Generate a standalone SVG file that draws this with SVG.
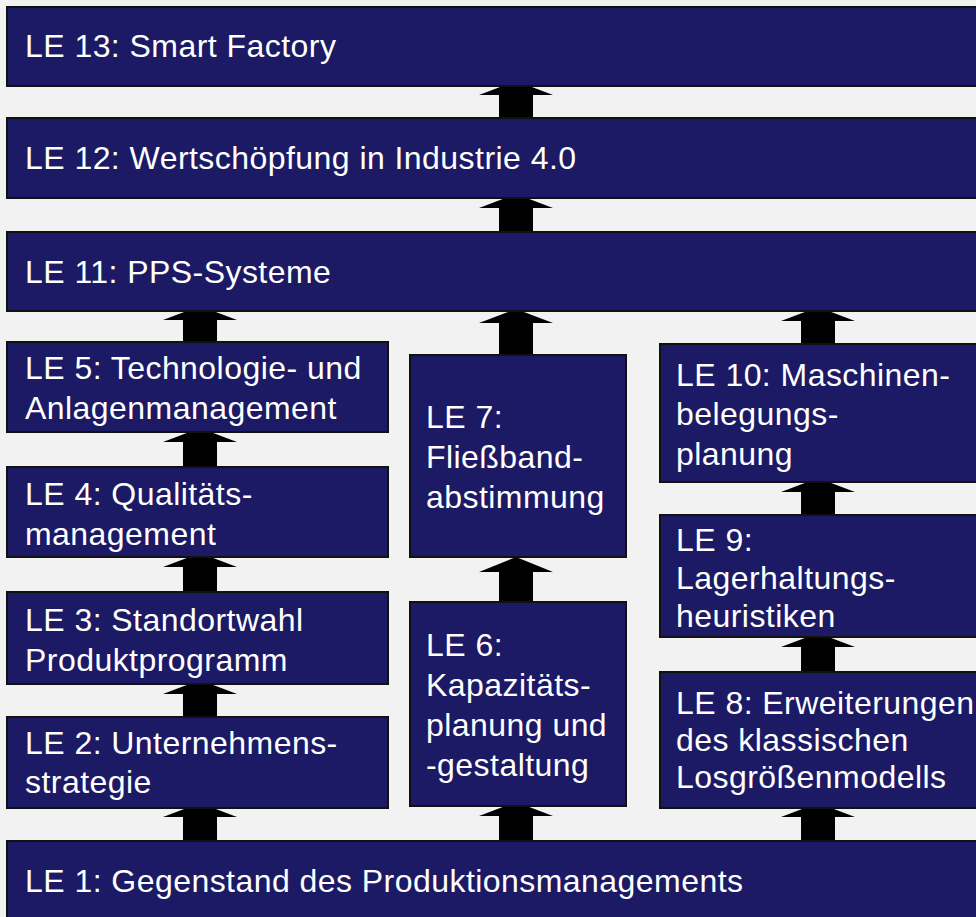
<svg xmlns="http://www.w3.org/2000/svg" width="976" height="917" viewBox="0 0 976 917">
<style>
.box{fill:#1c1a64;stroke:#111;stroke-width:2}
.t{font-family:"Liberation Sans",Arial,sans-serif;font-size:32px;fill:#ffffff;letter-spacing:0.45px}
.arr{fill:#000}
</style>
<rect x="0" y="0" width="976" height="917" fill="#f2f2f2"/>
<g id="connectors">
<polygon class="arr" points="516,81 553,95 533,95 533,118 499,118 499,95 479,95"/>
<polygon class="arr" points="516,194 553,208 533,208 533,232 499,232 499,208 479,208"/>
<polygon class="arr" points="200,306 237,320 217,320 217,342 183,342 183,320 163,320"/>
<polygon class="arr" points="516,309 553,323 533,323 533,355 499,355 499,323 479,323"/>
<polygon class="arr" points="818,307 855,321 835,321 835,344 801,344 801,321 781,321"/>
<polygon class="arr" points="200,428 237,442 217,442 217,467 183,467 183,442 163,442"/>
<polygon class="arr" points="200,553 237,567 217,567 217,592 183,592 183,567 163,567"/>
<polygon class="arr" points="200,680 237,694 217,694 217,717 183,717 183,694 163,694"/>
<polygon class="arr" points="200,803 237,817 217,817 217,841 183,841 183,817 163,817"/>
<polygon class="arr" points="516,557 553,572 533,572 533,602 499,602 499,572 479,572"/>
<polygon class="arr" points="516,802 553,816 533,816 533,841 499,841 499,816 479,816"/>
<polygon class="arr" points="818,478 855,492 835,492 835,515 801,515 801,492 781,492"/>
<polygon class="arr" points="818,633 855,647 835,647 835,672 801,672 801,647 781,647"/>
<polygon class="arr" points="818,803 855,817 835,817 835,841 801,841 801,817 781,817"/>
</g>
<g id="le13"><rect class="box" x="7" y="7" width="990" height="79"/><text class="t" x="25" y="57">LE 13: Smart Factory</text></g>
<g id="le12"><rect class="box" x="7" y="118" width="990" height="80"/><text class="t" x="25" y="169">LE 12: Wertschöpfung in Industrie 4.0</text></g>
<g id="le11"><rect class="box" x="7" y="232" width="990" height="79"/><text class="t" x="25" y="283">LE 11: PPS-Systeme</text></g>
<g id="le5"><rect class="box" x="7" y="342" width="381" height="90"/><text class="t" x="25" y="379">LE 5: Technologie- und</text><text class="t" x="25" y="419">Anlagenmanagement</text></g>
<g id="le4"><rect class="box" x="7" y="467" width="381" height="90"/><text class="t" x="25" y="505">LE 4: Qualitäts-</text><text class="t" x="25" y="545">management</text></g>
<g id="le3"><rect class="box" x="7" y="592" width="381" height="92"/><text class="t" x="25" y="631">LE 3: Standortwahl</text><text class="t" x="25" y="671">Produktprogramm</text></g>
<g id="le2"><rect class="box" x="7" y="717" width="381" height="91"/><text class="t" x="25" y="754">LE 2: Unternehmens-</text><text class="t" x="25" y="793">strategie</text></g>
<g id="le7"><rect class="box" x="410" y="355" width="216" height="202"/><text class="t" x="426" y="428">LE 7:</text><text class="t" x="426" y="468">Fließband-</text><text class="t" x="426" y="508">abstimmung</text></g>
<g id="le6"><rect class="box" x="410" y="602" width="216" height="204"/><text class="t" x="426" y="656">LE 6:</text><text class="t" x="426" y="696">Kapazitäts-</text><text class="t" x="426" y="736">planung und</text><text class="t" x="426" y="776">-gestaltung</text></g>
<g id="le10"><rect class="box" x="660" y="344" width="330" height="138"/><text class="t" x="676" y="386">LE 10: Maschinen-</text><text class="t" x="676" y="425">belegungs-</text><text class="t" x="676" y="465">planung</text></g>
<g id="le9"><rect class="box" x="660" y="515" width="330" height="122"/><text class="t" x="676" y="551">LE 9:</text><text class="t" x="676" y="589">Lagerhaltungs-</text><text class="t" x="676" y="627">heuristiken</text></g>
<g id="le8"><rect class="box" x="660" y="672" width="330" height="136"/><text class="t" x="676" y="714">LE 8: Erweiterungen</text><text class="t" x="676" y="751">des klassischen</text><text class="t" x="676" y="788">Losgrößenmodells</text></g>
<g id="le1"><rect class="box" x="7" y="841" width="990" height="90"/><text class="t" x="25" y="892">LE 1: Gegenstand des Produktionsmanagements</text></g>
</svg>
